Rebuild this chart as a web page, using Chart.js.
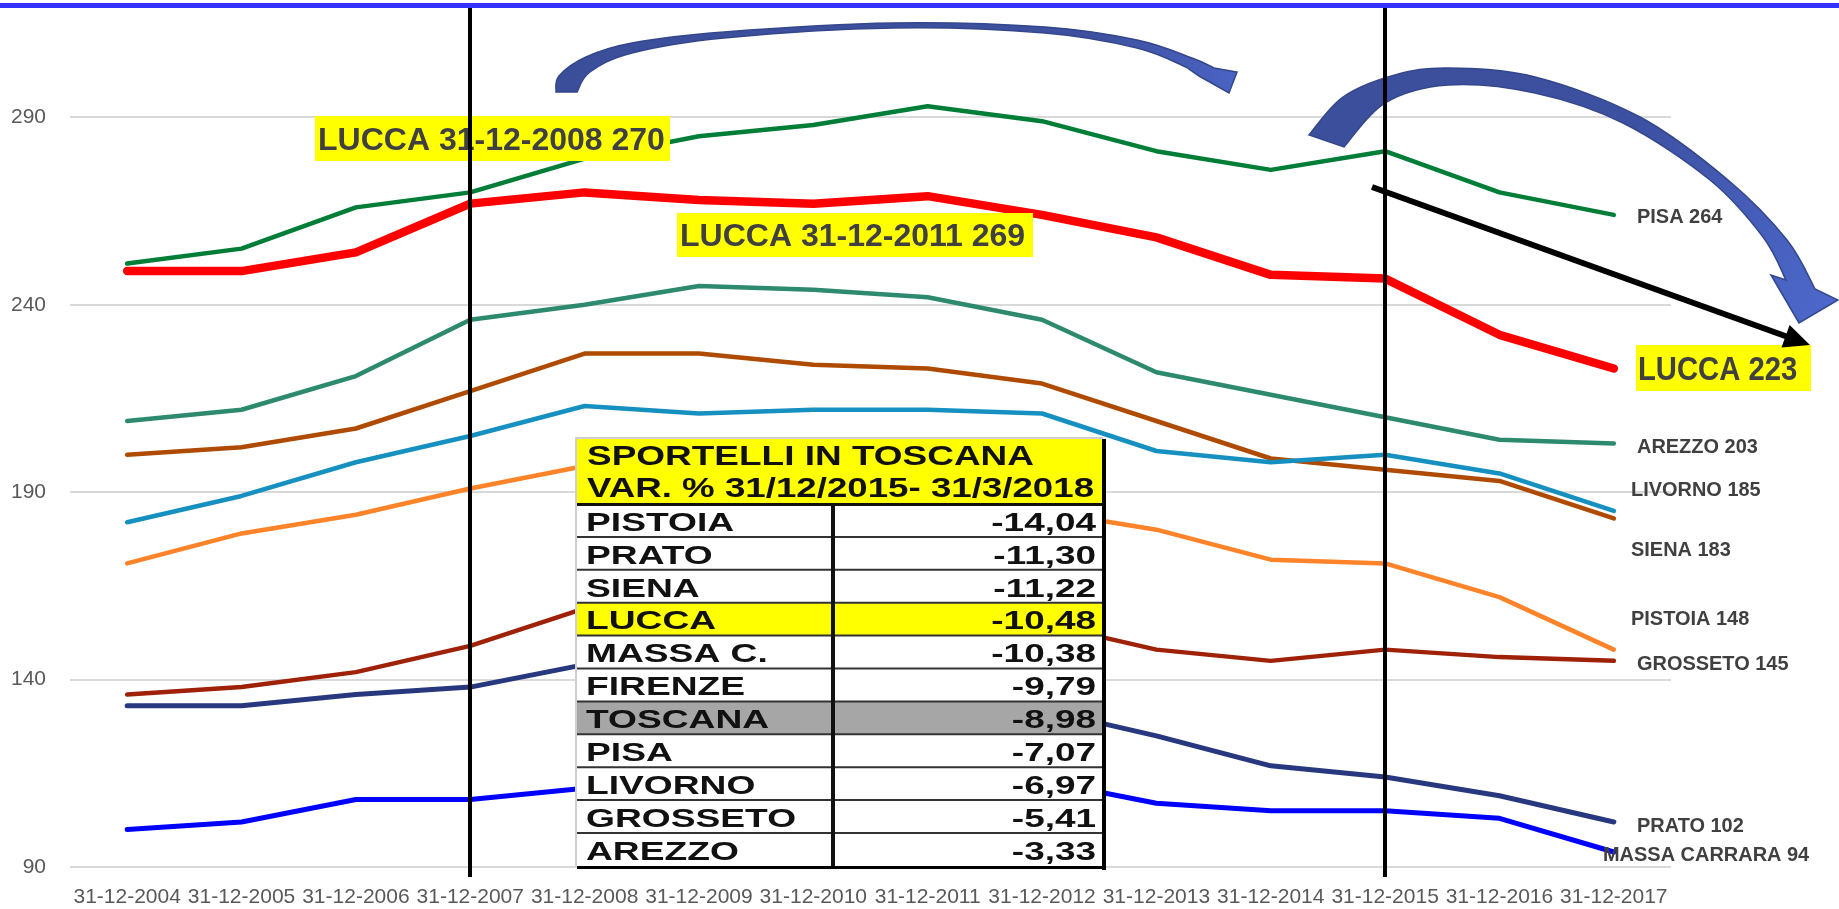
<!DOCTYPE html>
<html>
<head>
<meta charset="utf-8">
<script src="https://cdn.jsdelivr.net/npm/chart.js@4.4.1/dist/chart.umd.min.js"></script>
<style>
  html, body { margin: 0; padding: 0; background: #fff; overflow: hidden; }
  canvas { display: block; }
</style>
</head>
<body>
<canvas id="myChart" width="1839" height="909"></canvas>
<script>
// dati
var categories = ["31-12-2004", "31-12-2005", "31-12-2006", "31-12-2007", "31-12-2008", "31-12-2009", "31-12-2010",
  "31-12-2011", "31-12-2012", "31-12-2013", "31-12-2014", "31-12-2015", "31-12-2016", "31-12-2017"];
var lucca    = [249, 249, 254, 267, 270, 268, 267, 269, 264, 258, 248, 247, 232, 223];
var pisa     = [251, 255, 266, 270, 279, 285, 288, 293, 289, 281, 276, 281, 270, 264];
var arezzo   = [209, 212, 221, 236, 240, 245, 244, 242, 236, 222, 216, 210, 204, 203];
var siena    = [200, 202, 207, 217, 227, 227, 224, 223, 219, 209, 199, 196, 193, 183];
var livorno  = [182, 189, 198, 205, 213, 211, 212, 212, 211, 201, 198, 200, 195, 185];
var pistoia  = [171, 179, 184, 191, 197, 197, 196, 193, 185, 180, 172, 171, 162, 148];
var grosseto = [136, 138, 142, 149, 159, 162, 161, 160, 155, 148, 145, 148, 146, 145];
var prato    = [133, 133, 136, 138, 144, 146, 144, 140, 132, 125, 117, 114, 109, 102];
var massa    = [100, 102, 108, 108, 111, 112, 113, 114, 113, 107, 105, 105, 103, 94];
var yTicks = [90, 140, 190, 240, 290];

var endLabels = ["PISA 264", "AREZZO 203", "LIVORNO 185", "SIENA 183", "PISTOIA 148", "GROSSETO 145", "PRATO 102", "MASSA CARRARA 94"];
var notes = ["LUCCA 31-12-2008 270", "LUCCA 31-12-2011 269", "LUCCA 223"];
var tableTitle = ["SPORTELLI IN TOSCANA", "VAR. % 31/12/2015- 31/3/2018"];
var tableNames = ["PISTOIA", "PRATO", "SIENA", "LUCCA", "MASSA C.", "FIRENZE", "TOSCANA", "PISA", "LIVORNO", "GROSSETO", "AREZZO"];
var tableVars  = ["-14,04", "-11,30", "-11,22", "-10,48", "-10,38", "-9,79", "-8,98", "-7,07", "-6,97", "-5,41", "-3,33"];

// posizioni delle scritte (pixel)
var endLabelPos = [[1637, 215], [1637, 445], [1631, 488], [1631, 548], [1631, 617], [1637, 662], [1637, 824], [1603, 853]];
var notePos = [[315, 116, 355, 45], [677, 213, 356, 44], [1636, 345, 175, 46]];

var FONT = "'Liberation Sans', Arial, sans-serif";
Chart.defaults.font.family = FONT;

function drawText(c, text, x, yMid, size, sx, align, color) {
  c.save();
  c.font = "bold " + size + "px " + FONT;
  c.fillStyle = color;
  c.textBaseline = "alphabetic";
  c.textAlign = "left";
  var w = c.measureText(text).width * sx;
  var left = align === "right" ? x - w : x;
  c.translate(left, yMid + size * 0.358);
  c.scale(sx, 1);
  c.fillText(text, 0, 0);
  c.restore();
}

function smooth(c, pts, move) {
  if (move) c.moveTo(pts[0][0], pts[0][1]); else c.lineTo(pts[0][0], pts[0][1]);
  for (var i = 0; i < pts.length - 1; i++) {
    var p0 = pts[i - 1] || pts[i], p1 = pts[i], p2 = pts[i + 1], p3 = pts[i + 2] || p2;
    c.bezierCurveTo(p1[0] + (p2[0] - p0[0]) / 6, p1[1] + (p2[1] - p0[1]) / 6,
      p2[0] - (p3[0] - p1[0]) / 6, p2[1] - (p3[1] - p1[1]) / 6, p2[0], p2[1]);
  }
}

function blockArrow(c, outer, head, inner, g) {
  c.save();
  c.beginPath();
  smooth(c, outer, true);
  head.forEach(function (p) { c.lineTo(p[0], p[1]); });
  smooth(c, inner, false);
  c.closePath();
  c.fillStyle = g;
  c.fill();
  c.strokeStyle = "#34478c";
  c.lineWidth = 1.5;
  c.stroke();
  c.restore();
}

var overlay = {
  id: "overlay",
  afterDatasetsDraw: function (chart) {
    var c = chart.ctx;
    var xs = chart.scales.x;

    // riquadri gialli LUCCA
    notes.forEach(function (t, i) {
      var p = notePos[i];
      c.fillStyle = "#ffff00";
      c.fillRect(p[0], p[1], p[2], p[3]);
      if (i < 2) drawText(c, t, p[0] + 3, p[1] + p[3] / 2, 32, 1, "left", "#404040");
      else drawText(c, t, p[0] + 2, p[1] + p[3] / 2, 34, 0.86, "left", "#404040");
    });

    // etichette finali
    endLabels.forEach(function (t, i) {
      drawText(c, t, endLabelPos[i][0], endLabelPos[i][1], 21, 0.95, "left", "#404040");
    });

    // tabella
    var L = 577, R = 1103, T = 439, H = 504, rowH = 32.9, mid = 833;
    c.fillStyle = "#ffffff";
    c.fillRect(L, T, R - L, 868 - T);
    c.fillStyle = "#ffff00";
    c.fillRect(L, T, R - L, H - T);
    tableNames.forEach(function (n, i) {
      var y0 = H + i * rowH;
      if (n === "LUCCA") { c.fillStyle = "#ffff00"; c.fillRect(L, y0, R - L, rowH); }
      if (n === "TOSCANA") { c.fillStyle = "#a6a6a6"; c.fillRect(L, y0, R - L, rowH); }
    });
    c.strokeStyle = "#333";
    c.lineWidth = 2;
    for (var i = 1; i < tableNames.length; i++) {
      var yy = H + i * rowH;
      c.beginPath(); c.moveTo(L, yy); c.lineTo(R, yy); c.stroke();
    }
    c.fillStyle = "#111";
    c.fillRect(L, H - 1, R - L, 3);
    c.fillRect(mid - 2, H, 4, 866 - H);
    c.fillStyle = "#cfcfcf";
    c.fillRect(L - 2, T - 2, 2, 868 - T);
    c.fillRect(L - 2, T - 2, R - L + 2, 2);
    c.fillStyle = "#000";
    c.fillRect(R - 1, T, 4, 870 - T);
    c.fillRect(L, 866, R - L + 3, 3);
    drawText(c, tableTitle[0], 587, 455, 28, 1.32, "left", "#111");
    drawText(c, tableTitle[1], 587, 487, 28, 1.31, "left", "#111");
    tableNames.forEach(function (n, i) {
      var yc = H + i * rowH + rowH / 2 + 1;
      drawText(c, n, 586, yc, 26, 1.43, "left", "#111");
      drawText(c, tableVars[i], 1096, yc, 26, 1.42, "right", "#111");
    });

    // freccia nera
    var sx = 1372, sy = 187, tx = 1810, ty = 345;
    var len = Math.hypot(tx - sx, ty - sy), dx = (tx - sx) / len, dy = (ty - sy) / len;
    var bx = tx - 26 * dx, by = ty - 26 * dy;
    c.save();
    c.strokeStyle = "#000";
    c.lineWidth = 6;
    c.beginPath(); c.moveTo(sx, sy); c.lineTo(bx + 4 * dx, by + 4 * dy); c.stroke();
    c.fillStyle = "#000";
    c.beginPath();
    c.moveTo(tx, ty);
    c.lineTo(bx - 12 * dy, by + 12 * dx);
    c.lineTo(bx + 12 * dy, by - 12 * dx);
    c.closePath(); c.fill();
    c.restore();

    // frecce blu curve
    var g1 = c.createLinearGradient(556, 0, 1238, 0);
    g1.addColorStop(0, "#3b4e9a"); g1.addColorStop(0.8, "#3e51a0"); g1.addColorStop(1, "#4a64c4");
    blockArrow(c,
      [[556, 92], [559, 76], [586, 57], [632, 43], [724, 32], [893, 23], [1045, 27], [1137, 40], [1192, 58], [1214, 68]],
      [[1237, 72], [1229, 93], [1199, 76]],
      [[1186, 67], [1137, 48], [1045, 33], [893, 28], [724, 38], [632, 53], [590, 72], [577, 92]], g1);

    var g2 = c.createLinearGradient(1420, 90, 1810, 320);
    g2.addColorStop(0, "#3c4f9c"); g2.addColorStop(0.45, "#3d51a2"); g2.addColorStop(1, "#4c67c9");
    blockArrow(c,
      [[1309, 135], [1343, 97], [1395, 75], [1448, 68], [1535, 77], [1640, 117], [1728, 180], [1787, 240], [1815, 289]],
      [[1838, 300], [1799, 323], [1771, 275]],
      [[1786, 280], [1763, 237], [1710, 180], [1623, 123], [1535, 93], [1448, 85], [1385, 103], [1344, 147]], g2);

    // linee verticali 2007 e 2015
    c.fillStyle = "#000";
    [3, 11].forEach(function (k) {
      var px = Math.round(xs.getPixelForValue(k));
      c.fillRect(px - 2, 8, 4, 869);
    });

    // riga blu in alto
    c.fillStyle = "#3333ff";
    c.fillRect(0, 3, 1839, 5);
  }
};

function serie(data, color, w) {
  return {
    data: data, borderColor: color, backgroundColor: color, borderWidth: w,
    pointRadius: 0, tension: 0, borderCapStyle: "round", borderJoinStyle: "round", fill: false
  };
}

var ctx = document.getElementById("myChart");
var chart = new Chart(ctx, {
  type: "line",
  data: {
    labels: categories,
    datasets: [
      serie(lucca, "#ff0000", 8.5),
      serie(pisa, "#007d37", 4.5),
      serie(arezzo, "#2e8a6e", 4.5),
      serie(livorno, "#1690c0", 4.5),
      serie(siena, "#af4b00", 4.5),
      serie(pistoia, "#ff8329", 4.5),
      serie(grosseto, "#9e2108", 4.5),
      serie(prato, "#27387f", 5),
      serie(massa, "#0000ff", 5)
    ]
  },
  options: {
    responsive: false,
    animation: false,
    devicePixelRatio: 1,
    layout: { padding: { top: 5, right: 168, bottom: 0, left: 0 } },
    plugins: { legend: { display: false }, tooltip: { enabled: false } },
    scales: {
      x: {
        offset: true,
        grid: { display: false, drawTicks: false },
        border: { display: false },
        ticks: { autoSkip: false, maxRotation: 0, minRotation: 0, padding: 18, color: "#595959", font: { size: 21 } },
        afterFit: function (s) { s.height = 42; }
      },
      y: {
        min: 90,
        max: 320,
        grid: { color: "#d9d9d9", lineWidth: 2, drawTicks: false },
        border: { display: false },
        ticks: { padding: 24, color: "#595959", font: { size: 21 } },
        afterBuildTicks: function (s) { s.ticks = yTicks.map(function (v) { return { value: v }; }); },
        afterFit: function (s) { s.width = 70; s.paddingTop = 0; s.paddingBottom = 0; }
      }
    }
  },
  plugins: [overlay]
});
</script>
</body>
</html>
